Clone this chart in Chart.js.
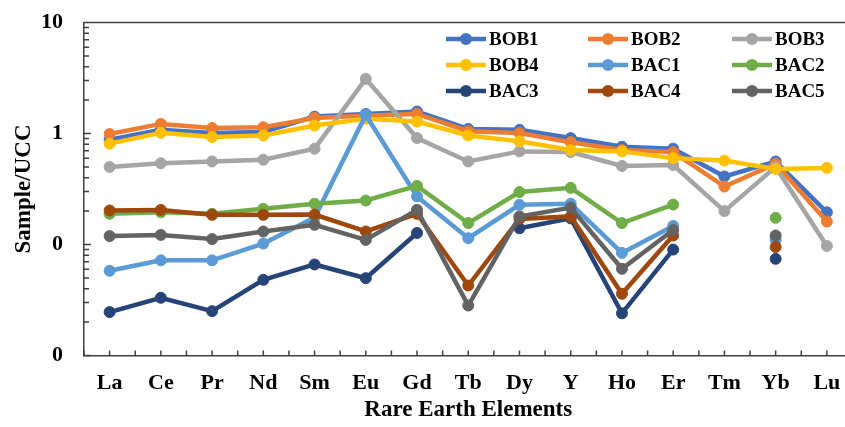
<!DOCTYPE html>
<html>
<head>
<meta charset="utf-8">
<title>REE pattern</title>
<script src="https://cdn.jsdelivr.net/npm/chart.js@4/dist/chart.umd.min.js"></script>
<style>
  html, body { margin: 0; padding: 0; overflow: hidden; background: #fff; }
  #wrap { width: 860px; height: 427px; }
</style>
</head>
<body>
<div id="wrap"><canvas id="myChart" width="860" height="427"></canvas></div>
<script>
const elements = ['La', 'Ce', 'Pr', 'Nd', 'Sm', 'Eu', 'Gd', 'Tb', 'Dy', 'Y', 'Ho', 'Er', 'Tm', 'Yb', 'Lu'];

const bob1 = [0.88, 1.08, 1.01, 1.03, 1.42, 1.50, 1.58, 1.10, 1.08, 0.91, 0.76, 0.73, 0.41, 0.56, 0.195];
const bob2 = [0.99, 1.22, 1.12, 1.14, 1.38, 1.45, 1.50, 1.05, 1.01, 0.835, 0.71, 0.68, 0.333, 0.533, 0.161];
const bob3 = [0.50, 0.54, 0.56, 0.58, 0.73, 3.11, 0.91, 0.56, 0.69, 0.68, 0.51, 0.52, 0.200, 0.50, 0.097];
const bob4 = [0.81, 1.015, 0.93, 0.96, 1.18, 1.36, 1.28, 0.96, 0.85, 0.71, 0.69, 0.60, 0.57, 0.48, 0.49];
const bac1 = [0.058, 0.072, 0.072, 0.102, 0.175, 1.47, 0.271, 0.114, 0.228, 0.233, 0.084, 0.147, null, 0.110, null];
const bac2 = [0.189, 0.195, 0.189, 0.210, 0.233, 0.249, 0.337, 0.156, 0.297, 0.324, 0.156, 0.229, null, 0.174, null];
const bac3 = [0.0246, 0.0331, 0.0251, 0.0481, 0.0661, 0.0497, 0.127, null, 0.140, 0.172, 0.0240, 0.090, null, 0.0743, null];
const bac4 = [0.2025, 0.205, 0.185, 0.185, 0.186, 0.131, 0.189, 0.0427, 0.170, 0.179, 0.036, 0.1205, null, 0.095, null];
const bac5 = [0.119, 0.122, 0.112, 0.131, 0.1505, 0.110, 0.205, 0.0282, 0.179, 0.215, 0.0604, 0.135, null, 0.1205, null];

const seriesNames = ['BOB1', 'BOB2', 'BOB3', 'BOB4', 'BAC1', 'BAC2', 'BAC3', 'BAC4', 'BAC5'];
const seriesValues = [bob1, bob2, bob3, bob4, bac1, bac2, bac3, bac4, bac5];
const seriesColors = ['#4472C4', '#ED7D31', '#A5A5A5', '#FFC000', '#5B9BD5', '#70AD47', '#264478', '#9E480E', '#636363'];

// log axis ticks: 0.01 .. 10, labels only on decades
const yTicks = [0.01, 0.02, 0.03, 0.04, 0.05, 0.06, 0.07, 0.08, 0.09,
  0.1, 0.2, 0.3, 0.4, 0.5, 0.6, 0.7, 0.8, 0.9,
  1, 2, 3, 4, 5, 6, 7, 8, 9, 10];
const yLabels = { 0.01: '0', 0.1: '0', 1: '1', 10: '10' };

const fontFamily = '"Liberation Serif", "Times New Roman", serif';
const axisColor = '#404040';

const datasets = seriesNames.map((name, i) => ({
  label: name,
  data: seriesValues[i],
  borderColor: seriesColors[i],
  backgroundColor: seriesColors[i],
  pointBackgroundColor: seriesColors[i],
  pointBorderColor: seriesColors[i],
  borderWidth: 4.5,
  pointRadius: 5.5,
  pointBorderWidth: 1,
  tension: 0,
  spanGaps: false,
  order: -i
}));

// inside tick marks + top frame line
const tickMarks = {
  id: 'tickMarks',
  beforeDatasetsDraw(chart) {
    const ctx = chart.ctx;
    const area = chart.chartArea;
    const x = chart.scales.x;
    const y = chart.scales.y;
    ctx.save();
    ctx.strokeStyle = axisColor;
    ctx.lineWidth = 1.5;
    ctx.beginPath();
    ctx.moveTo(area.left, area.top);
    ctx.lineTo(area.right, area.top);
    yTicks.forEach(v => {
      const py = y.getPixelForValue(v);
      const len = yLabels[v] ? 7 : 5;
      ctx.moveTo(area.left, py);
      ctx.lineTo(area.left + len, py);
    });
    const step = x.getPixelForValue(1) - x.getPixelForValue(0);
    elements.forEach((el, i) => {
      const px = x.getPixelForValue(i);
      [px - step / 2, px].forEach(t => {
        ctx.moveTo(t, area.bottom);
        ctx.lineTo(t, area.bottom - 5);
      });
    });
    ctx.stroke();
    ctx.restore();
  }
};

// legend drawn inside the plot, 3 columns
const legendBox = {
  id: 'legendBox',
  afterDatasetsDraw(chart) {
    const ctx = chart.ctx;
    const colX = [446, 588, 732];
    const rowY = [39, 65, 91];
    ctx.save();
    ctx.font = 'bold 19px ' + fontFamily;
    ctx.textBaseline = 'middle';
    ctx.textAlign = 'left';
    seriesNames.forEach((name, i) => {
      const lx = colX[i % 3];
      const ly = rowY[Math.floor(i / 3)];
      ctx.strokeStyle = seriesColors[i];
      ctx.lineWidth = 4.5;
      ctx.beginPath();
      ctx.moveTo(lx, ly);
      ctx.lineTo(lx + 40, ly);
      ctx.stroke();
      ctx.fillStyle = seriesColors[i];
      ctx.beginPath();
      ctx.arc(lx + 20, ly, 6, 0, Math.PI * 2);
      ctx.fill();
      ctx.fillStyle = '#000';
      ctx.fillText(name, lx + 43, ly + 1);
    });
    ctx.restore();
  }
};

const config = {
  type: 'line',
  data: {
    labels: elements,
    datasets: datasets
  },
  options: {
    responsive: false,
    animation: false,
    devicePixelRatio: 1,
    layout: { padding: { top: 22.5, right: 7.5, left: 0, bottom: 0 } },
    plugins: {
      legend: { display: false },
      tooltip: { enabled: false }
    },
    scales: {
      x: {
        type: 'category',
        offset: true,
        grid: { display: false, drawTicks: false },
        border: { display: true, color: axisColor, width: 1.5 },
        ticks: {
          color: '#000',
          padding: 15,
          maxRotation: 0,
          autoSkip: false,
          font: { family: fontFamily, size: 22, weight: 'bold' }
        },
        title: {
          display: true,
          text: 'Rare Earth Elements',
          color: '#000',
          padding: { top: 0, bottom: 3 },
          font: { family: fontFamily, size: 23, weight: 'bold' }
        },
        afterFit(scale) { scale.height = 71.5; }
      },
      y: {
        type: 'logarithmic',
        min: 0.01,
        max: 10,
        grid: { display: false, drawTicks: false },
        border: { display: true, color: axisColor, width: 1.5 },
        afterBuildTicks(scale) {
          scale.ticks = yTicks.map(v => ({ value: v, major: !!yLabels[v] }));
        },
        ticks: {
          color: '#000',
          padding: 21,
          autoSkip: false,
          font: { family: fontFamily, size: 22, weight: 'bold' },
          callback: (value) => yLabels[value] || ''
        },
        title: {
          display: true,
          text: 'Sample/UCC',
          color: '#000',
          padding: { top: 10, bottom: 0 },
          font: { family: fontFamily, size: 23, weight: 'bold' }
        },
        afterFit(scale) {
          scale.width = 84;
          scale.paddingTop = 0;
          scale.paddingBottom = 0;
        }
      }
    }
  },
  plugins: [tickMarks, legendBox]
};

let myChart = new Chart(document.querySelector('#myChart'), config);
</script>
</body>
</html>
